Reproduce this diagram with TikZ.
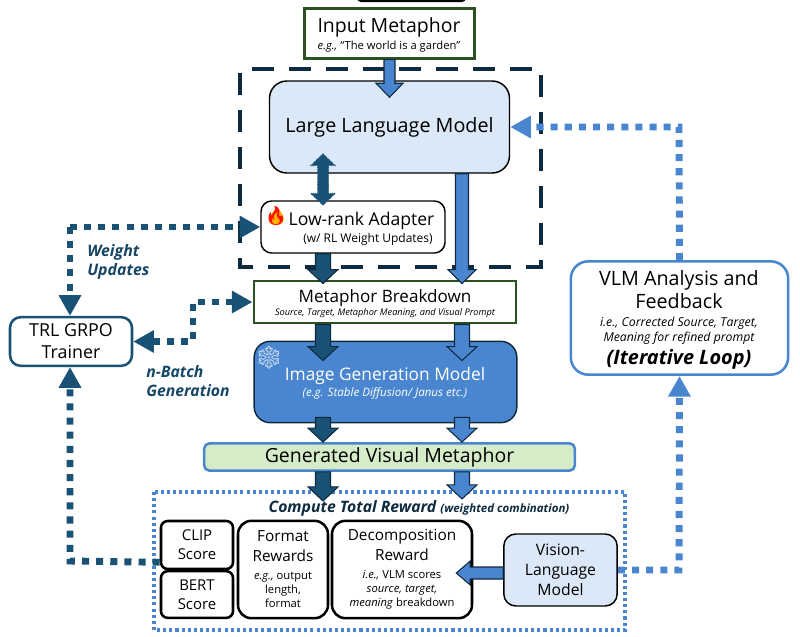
\documentclass[tikz,border=0pt]{standalone}
\usepackage{fontspec}
\setmainfont{Open Sans}
\newfontfamily\emojifont{Noto Emoji}
\usetikzlibrary{arrows.meta,calc}
\definecolor{navy}{HTML}{0E2A3F}
\definecolor{teal2}{HTML}{1A5276}
\definecolor{mblue}{HTML}{4A86D0}
\definecolor{paleblue}{HTML}{DAE8F7}
\definecolor{palegreen}{HTML}{D5ECC8}
\definecolor{dkgreen}{HTML}{2A5220}
\newcommand{\fs}[1]{\fontsize{#1}{#1}\selectfont}
\tikzset{
  box/.style={draw,rectangle,inner sep=0pt,align=center,text=black},
  greenbox/.style={box,draw=dkgreen,fill=white,line width=1.7pt},
  model/.style={box,fill=paleblue,line width=1.1pt},
  scorebox/.style={box,fill=white,line width=1.9pt},
  plain/.style={inner sep=0pt,align=center},
  blockdown/.style 2 args={draw=navy,line width=.8pt,to path={
      ($(\tikztostart)+(-#1,0)$) -- ($(\tikztotarget)+(-#1,-14)$) -- ($(\tikztotarget)+(-#2,-14)$)
      -- (\tikztotarget) -- ($(\tikztotarget)+(#2,-14)$) -- ($(\tikztotarget)+(#1,-14)$)
      -- ($(\tikztostart)+(#1,0)$) -- cycle}},
  blockleft/.style 2 args={draw=navy,line width=.8pt,to path={
      ($(\tikztostart)+(0,-#1)$) -- ($(\tikztotarget)+(14,-#1)$) -- ($(\tikztotarget)+(14,-#2)$)
      -- (\tikztotarget) -- ($(\tikztotarget)+(14,#2)$) -- ($(\tikztotarget)+(14,#1)$)
      -- ($(\tikztostart)+(0,#1)$) -- cycle}},
  blockboth/.style 2 args={draw=teal2,fill=teal2,line width=.6pt,densely dotted,to path={
      (\tikztostart) -- ($(\tikztostart)+(#2,12)$) -- ($(\tikztostart)+(#1,12)$)
      -- ($(\tikztotarget)+(#1,-12)$) -- ($(\tikztotarget)+(#2,-12)$) -- (\tikztotarget)
      -- ($(\tikztotarget)+(-#2,-12)$) -- ($(\tikztotarget)+(-#1,-12)$)
      -- ($(\tikztostart)+(-#1,12)$) -- ($(\tikztostart)+(-#2,12)$) -- cycle}},
  dotarrow/.style={line width=5.2pt,dash pattern=on 5.3pt off 5.3pt},
  bluedots/.style={dotarrow,draw=mblue,-{Triangle[length=15.5pt,width=16pt]}},
  tealdots/.style={dotarrow,draw=teal2,-{Triangle[length=15.5pt,width=16pt]}},
}
\begin{document}
\begin{tikzpicture}[x=.75pt,y=-.75pt]
  \useasboundingbox (0,0) rectangle (800,636);

  \fill[black,rounded corners=3pt] (357,-8) rectangle (466,2);

  % dashed and dotted frames
  \draw[navy,line width=3.4pt,dash pattern=on 16.5pt off 11.2pt,dash phase=-3pt] (240,69) rectangle (541,267);
  \draw[mblue,line width=2.4pt,dash pattern=on 2.3pt off 2.3pt] (154,492) rectangle (625,630);

  % main boxes
  \node[greenbox,minimum width=127.5pt,minimum height=37.5pt] (input) at (389.5,33.5) {};
  \node[plain,font=\fs{14.6}] (inputtxt) at (389,27.5) {Input Metaphor};
  \node[plain,font=\fs{8.4}] (inputsub) at (389,46.5) {\textit{e.g.,} “The world is a garden”};
  \node[model,rounded corners=13pt,minimum width=180pt,minimum height=69pt,font=\fs{14.8}] (llm) at (389.5,127) {\raisebox{-1.2pt}{Large Language Model}};
  \node[box,fill=white,rounded corners=8pt,line width=1.1pt,minimum width=138pt,minimum height=39pt] (adapter) at (353,227) {};
  \node[plain,font=\fs{13.2}] (adaptertxt) at (361.5,221) {Low-rank Adapter};
  \node[plain,font=\fs{9},anchor=east] (adaptersub) at (433,239.5) {(w/ RL Weight Updates)};
  \fill[orange!60!yellow] (276,207) .. controls (283,213) and (285,218) .. (283,222) .. controls (281,226) and (271,226) .. (269,222) .. controls (267,217) and (273,214) .. (276,207) -- cycle;
  \node[plain,font=\emojifont\fs{14},text=red!85!orange] (fire) at (276,216) {🔥};
  \node[greenbox,minimum width=197pt,minimum height=32pt] (breakdown) at (385,302) {};
  \node[plain,font=\fs{12.8}] (breakdowntxt) at (385,298) {Metaphor Breakdown};
  \node[plain,font=\itshape\fs{6.9}] (breakdownsub) at (385,313.5) {Source, Target, Metaphor Meaning, and Visual Prompt};
  \node[box,draw=navy,fill=mblue,rounded corners=12pt,line width=1.1pt,minimum width=197pt,minimum height=61pt] (imagegen) at (385.5,382) {};
  \node[plain,font=\fs{13},text=white] (imagegentxt) at (385,376) {Image Generation Model};
  \node[plain,font=\itshape\fs{8.7},text=white] (imagegensub) at (385,393.5) {(e.g. Stable Diffusion/ Janus etc.)};
  \node[plain,font=\emojifont\fs{17},text=paleblue] (snow) at (269,358) {❄};
  \node[box,draw=mblue,fill=palegreen,rounded corners=4pt,line width=1.9pt,minimum width=278pt,minimum height=20.5pt,font=\fs{14.6}] (generated) at (389.5,457) {Generated Visual Metaphor};

  % reward boxes
  \node[plain,text=navy,font=\bfseries\itshape\fs{11.8}] (rewardtxt) at (419,508) {Compute Total Reward \fs{8.6}(weighted combination)};
  \node[scorebox,rounded corners=5pt,minimum width=54pt,minimum height=36pt,font=\fs{11.2}] (clip) at (197,545) {CLIP\\[3pt]Score};
  \node[scorebox,rounded corners=5pt,minimum width=54pt,minimum height=35pt,font=\fs{11.2}] (bert) at (197,594.5) {BERT\\[3pt]Score};
  \node[scorebox,rounded corners=10pt,minimum width=67.5pt,minimum height=73pt,font=\fs{11.5}] (format) at (283,569.5) {Format\\[3pt]Rewards\\[2pt]{\fs{8.4}\textit{e.g.,} output}\\[-.8pt]{\fs{8.4}length,}\\[-.8pt]{\fs{8.4}format}};
  \node[scorebox,rounded corners=10pt,minimum width=105pt,minimum height=73pt,font=\fs{11.5}] (decomp) at (402,569.5) {Decomposition\\[3pt]Reward\\[2pt]{\fs{8.4}\textit{i.e.,} VLM scores}\\[-.8pt]{\fs{8.4}\textit{source, target,}}\\[-.8pt]{\fs{8.4}\textit{meaning} breakdown}};
  \node[model,rounded corners=9pt,minimum width=85pt,minimum height=54pt,font=\fs{11.8}] (vlm) at (560.5,570) {Vision-\\[3pt]Language\\[3pt]Model};

  % side boxes
  \node[box,draw=mblue,fill=white,rounded corners=13pt,line width=1.9pt,minimum width=163pt,minimum height=85pt] (analysis) at (679.5,318) {};
  \node[plain,font=\fs{14.8}] (analysistxt) at (679,289.5) {VLM Analysis and\\[3pt]Feedback};
  \node[plain,font=\itshape\fs{9.2}] (analysissub) at (679,331) {i.e., Corrected Source, Target,\\[1.2pt]Meaning for refined prompt};
  \node[plain,font=\bfseries\itshape\fs{14.9}] (analysisloop) at (679,359.5) {(Iterative Loop)};
  \node[box,draw=teal2,fill=white,rounded corners=8pt,line width=1.9pt,minimum width=91.5pt,minimum height=36.5pt,font=\fs{13.4}] (trainer) at (71,341.5) {TRL GRPO\\[3pt]Trainer};

  \node[plain,align=left,anchor=west,text=teal2!70!navy,font=\bfseries\itshape\fs{11.9}] (weightlbl) at (87,262) {Weight\\[2.5pt]Updates};
  \node[plain,align=left,anchor=west,text=teal2!70!navy,font=\bfseries\itshape\fs{11.8}] (batchlbl) at (146,381) {n-Batch\\[2.5pt]Generation};

  % columns and bends of the connectors
  \coordinate (colL) at (323,0);
  \coordinate (colR) at (462,0);
  \coordinate (bendW) at (70,227);
  \coordinate (bendB) at (193,320);
  \coordinate (bendC) at (70,561);
  \coordinate (bendF) at (679,570);
  \coordinate (bendI) at (679,127);

  % block arrows
  \draw[blockdown={5.5}{13.5},fill=mblue] (input.south) to ($(llm.north)+(0,17)$);
  \draw[blockboth={5.5}{12.5}] ($(llm.south -| colL)+(0,-20)$) to ($(adapter.north -| colL)+(0,5)$);
  \draw[blockdown={6.5}{14},fill=mblue] (llm.south -| colR) to ($(breakdown.north -| colR)+(0,4)$);
  \draw[blockdown={7.5}{15},fill=teal2] (adapter.south -| colL) to ($(breakdown.north -| colL)+(0,4)$);
  \draw[blockdown={7.5}{15},fill=teal2] (breakdown.south -| colL) to ($(imagegen.north -| colL)+(0,20)$);
  \draw[blockdown={7.5}{15},fill=mblue] (breakdown.south -| colR) to ($(imagegen.north -| colR)+(0,20)$);
  \draw[blockdown={7.5}{15},fill=teal2] ($(imagegen.south -| colL)+(0,-6)$) to (generated.north -| colL);
  \draw[blockdown={7.5}{15},fill=mblue] ($(imagegen.south -| colR)+(0,-6)$) to (generated.north -| colR);
  \draw[blockdown={7.5}{15},fill=teal2] (generated.south -| colL) to ($(generated.south -| colL)+(0,29)$);
  \draw[blockdown={7.5}{15},fill=mblue] (generated.south -| colR) to ($(generated.south -| colR)+(0,27)$);
  \draw[blockleft={6}{12},fill=mblue] ($(vlm.west)+(0,3)$) to ($(decomp.east |- vlm.west)+(-17,3)$);

  % dotted feedback lines
  \draw[bluedots] (analysis.north) -- (bendI) -- (llm.east);
  \draw[bluedots] (vlm.east) -- (bendF) -- (analysis.south);
  \draw[tealdots] (bendW) -- (adapter.west);
  \draw[tealdots] (bendW) -- (trainer.north -| bendW);
  \draw[tealdots,{Triangle[length=15.5pt,width=16pt]}-{Triangle[length=15.5pt,width=16pt]}] (trainer.east) -| (bendB) |- (breakdown.west);
  \draw[tealdots] ($(clip.south west)+(0,-8)$) -- (bendC) -- (trainer.south -| bendC);
\end{tikzpicture}
\end{document}
